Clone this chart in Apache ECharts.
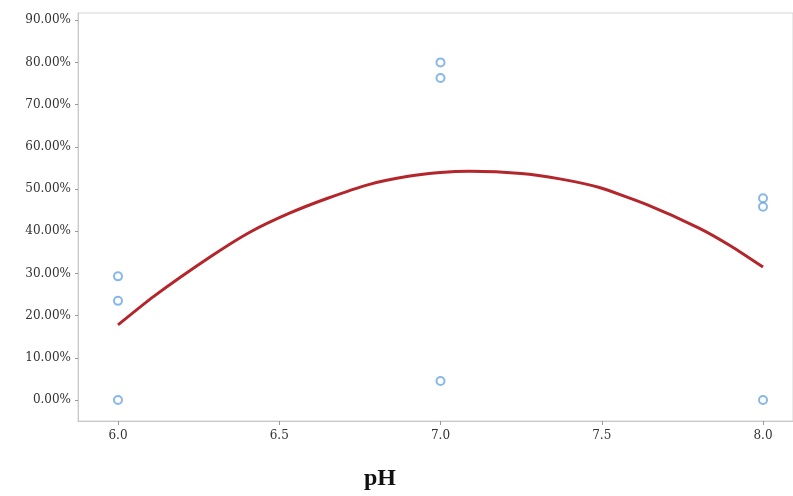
<!DOCTYPE html>
<html>
<head>
<meta charset="utf-8">
<script src="https://cdn.jsdelivr.net/npm/echarts@6/dist/echarts.min.js"></script>
<style>
  html, body { margin: 0; padding: 0; background: #fff; }
  #chart { width: 793px; height: 496px; }
</style>
</head>
<body>
<div id="chart"></div>
<script>
// observed points: [pH, percent]
let obsPoints = [
  [6.0, 29.3], [6.0, 23.5], [6.0, 0.0],
  [7.0, 80.0], [7.0, 76.3], [7.0, 4.5],
  [8.0, 47.8], [8.0, 45.8], [8.0, 0.0]
];
// fitted curve
let curvePoints = [
  [6.0, 17.8], [6.11, 24.5], [6.29, 34.1], [6.41, 39.8], [6.53, 44.2],
  [6.65, 47.8], [6.78, 51.1], [6.9, 53.0], [7.0, 53.9], [7.09, 54.2],
  [7.25, 53.7], [7.37, 52.4], [7.49, 50.4], [7.64, 46.3], [7.8, 40.8],
  [7.9, 36.5], [8.0, 31.5]
];
let xTicks = [6.0, 6.5, 7.0, 7.5, 8.0];
let yTicks = [0, 10, 20, 30, 40, 50, 60, 70, 80, 90];

let myChart = echarts.init(document.getElementById("chart"));
let option = {
  animation: false,
  title: {
    text: "pH",
    left: 375,
    top: 462,
    textAlign: "center",
    textStyle: {
      fontFamily: "Liberation Serif",
      fontWeight: "bold",
      fontSize: 24,
      color: "#111"
    }
  },
  grid: {
    left: 78, top: 13, right: 0, bottom: 75,
    outerBoundsMode: "none",
    containLabel: false,
    show: true, borderColor: "#d4d4d4", borderWidth: 1
  },
  xAxis: {
    type: "value",
    min: 5.876,
    max: 8.093,
    splitLine: { show: false },
    axisLine: { onZero: false, lineStyle: { color: "#c8c8c8" } },
    axisTick: { customValues: xTicks, length: 4, lineStyle: { color: "#999" } },
    axisLabel: {
      customValues: xTicks,
      formatter: function (v) { return v.toFixed(1); },
      fontFamily: "DejaVu Serif",
      fontSize: 12,
      color: "#333",
      margin: 9
    }
  },
  yAxis: {
    type: "value",
    min: -4.97,
    max: 91.7,
    splitLine: { show: false },
    axisLine: { show: true, onZero: false, lineStyle: { color: "#c8c8c8" } },
    axisTick: { show: true, customValues: yTicks, length: 3, lineStyle: { color: "#999" } },
    axisLabel: {
      customValues: yTicks,
      formatter: function (v) { return v.toFixed(2) + "%"; },
      fontFamily: "DejaVu Serif",
      fontSize: 12,
      color: "#333",
      margin: 7
    }
  },
  series: [
    {
      type: "line",
      data: curvePoints,
      smooth: 0.2,
      showSymbol: false,
      lineStyle: { color: "#b3262b", width: 3 },
      z: 2
    },
    {
      type: "scatter",
      data: obsPoints,
      symbol: "circle",
      symbolSize: 8,
      itemStyle: { color: "#fff", borderColor: "#6aa6e0", borderWidth: 2 },
      z: 3
    }
  ]
};
myChart.setOption(option);
</script>
</body>
</html>
